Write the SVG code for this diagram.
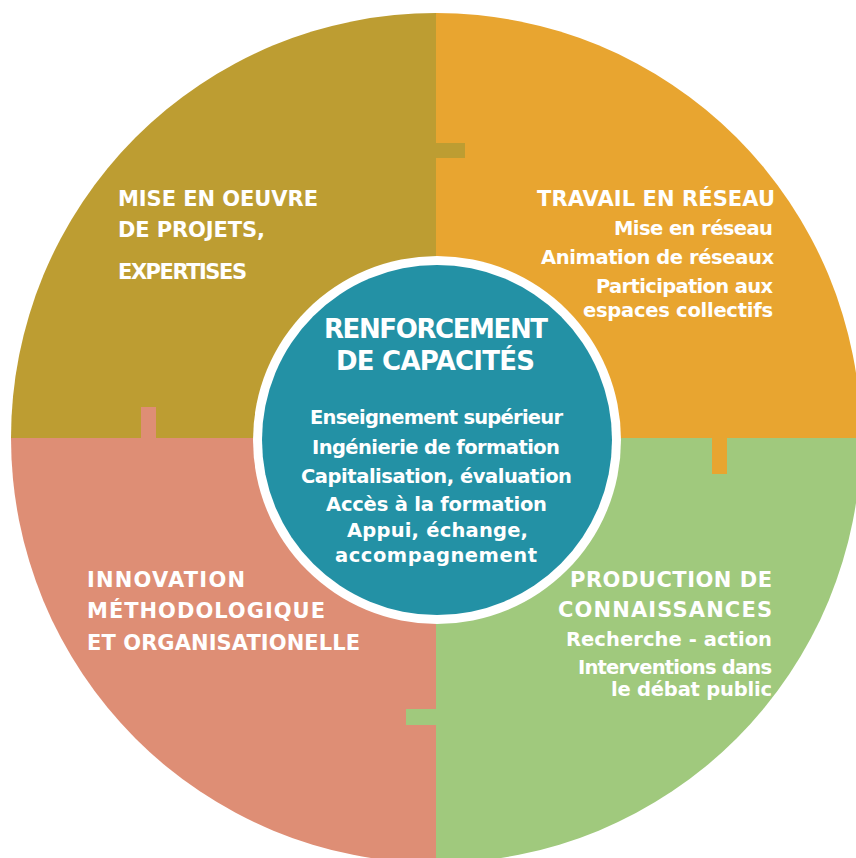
<svg xmlns="http://www.w3.org/2000/svg" width="856" height="858" viewBox="0 0 856 858">
<style>
text{font-family:"DejaVu Sans","Liberation Sans",sans-serif;font-weight:bold;fill:#ffffff}
.h{font-size:21px}
.s{font-size:19.5px}
.t{font-size:26px}
.olive{fill:#BD9D32}
.orange{fill:#E8A530}
.pink{fill:#DE8E75}
.green{fill:#A0C97D}
</style>
<rect width="856" height="858" fill="#ffffff"/>
<g id="sectors">
<path class="olive" d="M436,438 L11,438 A425,425 0 0 1 436,13 Z"/>
<path class="orange" d="M436,438 L436,13 A425,425 0 0 1 861,438 Z"/>
<path class="green" d="M436,438 L861,438 A425,425 0 0 1 436,863 Z"/>
<path class="pink" d="M436,438 L436,863 A425,425 0 0 1 11,438 Z"/>
</g>
<g id="q-top-left">
<rect class="olive" x="435" y="143" width="30" height="15"/>
<text class="h" x="118" y="206" textLength="200">MISE EN OEUVRE</text>
<text class="h" x="118" y="237" textLength="147">DE PROJETS,</text>
<text class="h" x="118" y="279" textLength="129">EXPERTISES</text>
</g>
<g id="q-top-right">
<rect class="orange" x="712" y="437" width="15" height="37"/>
<text class="h" x="537" y="206" textLength="238">TRAVAIL EN RÉSEAU</text>
<text class="s" x="614" y="235" textLength="159">Mise en réseau</text>
<text class="s" x="541" y="264" textLength="233">Animation de réseaux</text>
<text class="s" x="596" y="293" textLength="177">Participation aux</text>
<text class="s" x="583" y="317" textLength="190">espaces collectifs</text>
</g>
<g id="q-bottom-right">
<rect class="green" x="406" y="709" width="31" height="16"/>
<text class="h" x="570" y="587" textLength="202">PRODUCTION DE</text>
<text class="h" x="558" y="617" textLength="214">CONNAISSANCES</text>
<text class="s" x="566" y="646" textLength="206">Recherche - action</text>
<text class="s" x="578" y="674" textLength="194">Interventions dans</text>
<text class="s" x="611" y="696" textLength="161">le débat public</text>
</g>
<g id="q-bottom-left">
<rect class="pink" x="141" y="407" width="15" height="32"/>
<text class="h" x="87" y="587" textLength="158">INNOVATION</text>
<text class="h" x="87" y="618" textLength="238">MÉTHODOLOGIQUE</text>
<text class="h" x="87" y="650" textLength="273">ET ORGANISATIONELLE</text>
</g>
<g id="center">
<circle cx="437" cy="440" r="184" fill="#ffffff"/>
<circle cx="437" cy="440" r="175" fill="#2391A5"/>
<text class="t" x="324" y="338" textLength="224">RENFORCEMENT</text>
<text class="t" x="336" y="370" textLength="199">DE CAPACITÉS</text>
<text class="s" x="310" y="424" textLength="253">Enseignement supérieur</text>
<text class="s" x="312" y="454" textLength="248">Ingénierie de formation</text>
<text class="s" x="301" y="483" textLength="271">Capitalisation, évaluation</text>
<text class="s" x="326" y="511" textLength="221">Accès à la formation</text>
<text class="s" x="347" y="537" textLength="181">Appui, échange,</text>
<text class="s" x="335" y="562" textLength="202">accompagnement</text>
</g>
<g id="connectors"></g>
</svg>
